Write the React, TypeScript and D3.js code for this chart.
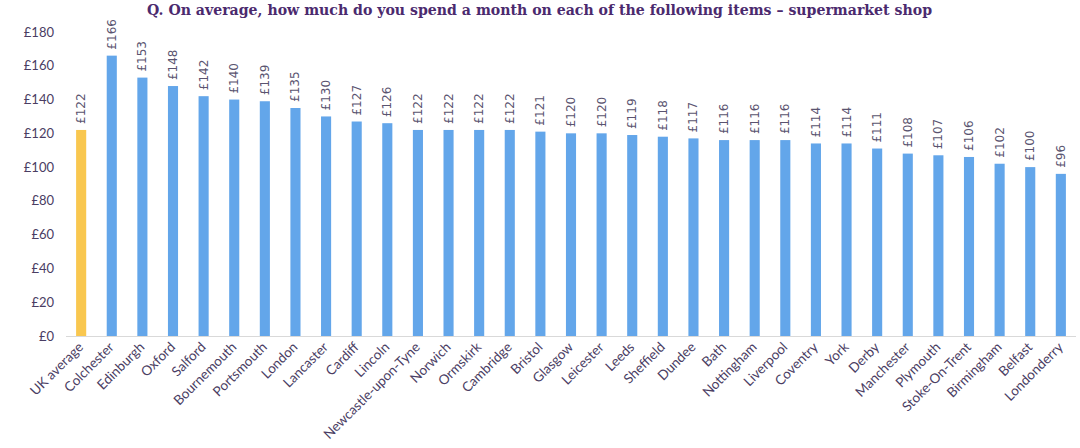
import React from "react";
import * as d3 from "d3";

const categories = ["UK average","Colchester","Edinburgh","Oxford","Salford","Bournemouth","Portsmouth","London","Lancaster","Cardiff","Lincoln","Newcastle-upon-Tyne","Norwich","Ormskirk","Cambridge","Bristol","Glasgow","Leicester","Leeds","Sheffield","Dundee","Bath","Nottingham","Liverpool","Coventry","York","Derby","Manchester","Plymouth","Stoke-On-Trent","Birmingham","Belfast","Londonderry"];
const values = [122,166,153,148,142,140,139,135,130,127,126,122,122,122,122,121,120,120,119,118,117,116,116,116,114,114,111,108,107,106,102,100,96];
const yTicks = [0,20,40,60,80,100,120,140,160,180];
const title = "Q. On average, how much do you spend a month on each of the following items \u2013 supermarket shop";

const W = 1080, H = 448;
const left = 66, right = 1076, top = 32, bottom = 336;

export default function App() {
  const x = d3.scaleBand<string>().domain(categories).range([left, right]).paddingInner(0.67).paddingOuter(0.33);
  const y = d3.scaleLinear().domain([0, 180]).range([bottom, top]);
  const textColor = "#4a3d63";
  return (
    <svg width={W} height={H} style={{ position: "absolute", left: 0, top: 0, background: "#fff" }}>
      <text x={147} y={15} textLength={785} lengthAdjust="spacingAndGlyphs" fontFamily="'DejaVu Serif', serif" fontWeight="bold" fontSize={15.5} fill="#4b2a6e">{title}</text>
      {yTicks.map(t => (
        <text key={t} x={54} y={y(t)} dy="0.35em" textAnchor="end" fontFamily="Lato, sans-serif" fontSize={13} fill={textColor}>{"\u00a3" + t}</text>
      ))}
      {categories.map((c, i) => (
        <rect key={c} x={x(c)!} y={y(values[i])} width={x.bandwidth()} height={bottom - y(values[i])} fill={i === 0 ? "#f9c74f" : "#63a6ea"} />
      ))}
      <line x1={left} x2={right} y1={bottom + 0.5} y2={bottom + 0.5} stroke="#d9d9d9" strokeWidth={1} />
      {categories.map((c, i) => {
        const cx = x(c)! + x.bandwidth() / 2;
        const ty = y(values[i]) - 6;
        return (
          <text key={"v" + c} transform={`translate(${cx + 4},${ty}) rotate(-90)`} textAnchor="start" fontFamily="'DejaVu Sans', sans-serif" fontSize={12} fill="#5a5470">{"\u00a3" + values[i]}</text>
        );
      })}
      {categories.map((c, i) => {
        const cx = x(c)! + x.bandwidth() / 2;
        return (
          <text key={"l" + c} transform={`translate(${cx + 3},${bottom + 12}) rotate(-45)`} textAnchor="end" fontFamily="Lato, sans-serif" fontSize={13.5} fill={textColor}>{c}</text>
        );
      })}
    </svg>
  );
}
